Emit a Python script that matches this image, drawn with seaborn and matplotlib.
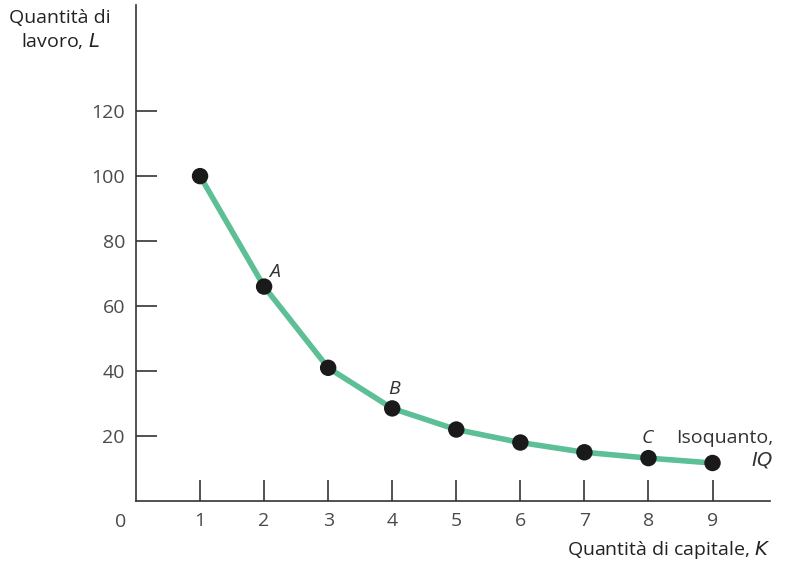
import matplotlib
matplotlib.use("Agg")
import matplotlib.pyplot as plt
import seaborn as sns
import pandas as pd

capitale = [1, 2, 3, 4, 5, 6, 7, 8, 9]
lavoro = [100, 66, 41, 28.5, 22, 18, 15, 13.2, 11.7]
y_ticks = [20, 40, 60, 80, 100, 120]
x_ticks = [1, 2, 3, 4, 5, 6, 7, 8, 9]

sns.set_style("white")
plt.rcParams['font.family'] = ['Open Sans', 'DejaVu Sans']

df = pd.DataFrame({'K': capitale, 'L': lavoro})

fig = plt.figure(figsize=(7.87, 5.64), dpi=100)
ax = fig.add_axes([0.1728, 0.1117, 0.805, 0.879])

sns.lineplot(data=df, x='K', y='L', color='#5cbf95', linewidth=4, ax=ax, zorder=2)
sns.scatterplot(data=df, x='K', y='L', color='#1a1a1a', s=140, edgecolor='none', ax=ax, zorder=3)

ax.set_xlim(0, 9.89)
ax.set_ylim(0, 152.6)
ax.set_xticks(x_ticks)
ax.set_yticks(y_ticks)
ax.tick_params(axis='both', direction='in', length=15, width=1.2, colors='#333333',
               labelsize=14, labelcolor='#4a4a4a', pad=8, bottom=True, left=True)
for s in ['top', 'right']:
    ax.spines[s].set_visible(False)
for s in ['left', 'bottom']:
    ax.spines[s].set_color('#333333')
    ax.spines[s].set_linewidth(1.2)
ax.set_xlabel('')
ax.set_ylabel('')

fig.text(121 / 787, 1 - 522 / 564, '0', fontsize=14, color='#4a4a4a', ha='center', va='center')
fig.text(60 / 787, 1 - 30 / 564, 'Quantità di\nlavoro, $\\it{L}$', fontsize=14, color='#222222',
         ha='center', va='center', linespacing=1.2)
fig.text(770 / 787, 1 - 550 / 564, 'Quantità di capitale, $\\it{K}$', fontsize=14, color='#222222',
         ha='right', va='center')

ax.text(2.07, 69, 'A', fontsize=14, style='italic', color='#333333')
ax.text(3.93, 33, 'B', fontsize=14, style='italic', color='#333333')
ax.text(7.9, 18, 'C', fontsize=14, style='italic', color='#333333')
ax.text(9.95, 9.5, 'Isoquanto,\n$\\it{IQ}$', fontsize=14, color='#333333', ha='right',
        va='bottom', linespacing=1.2, clip_on=False)

fig.savefig('out.png', dpi=100)
